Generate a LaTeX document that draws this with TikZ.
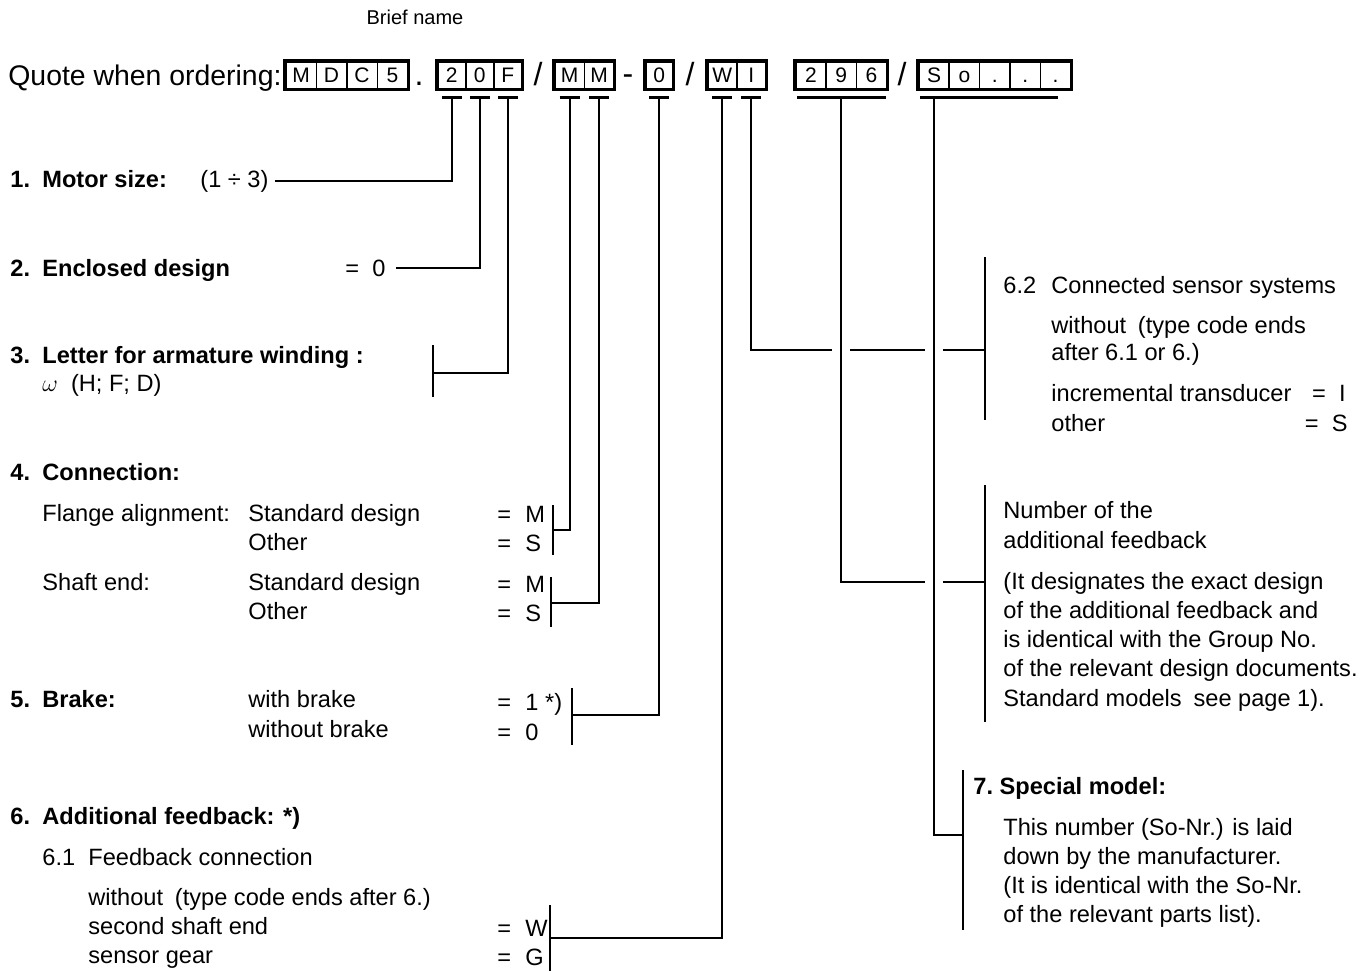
\documentclass[tikz,border=0pt]{standalone}
\usepackage{fontspec}
\setmainfont{Liberation Sans}
\usetikzlibrary{positioning}

\newcommand{\corpo}{\fontsize{11.8}{14}\selectfont}
\newcommand{\piccolo}{\fontsize{10.5}{12}\selectfont}
\newcommand{\voce}[2][16pt]{\makebox[#1][l]{#2}}
\newcommand{\uguale}[1]{\makebox[14pt][l]{=}#1}

\begin{document}
\begin{tikzpicture}[x=0.5pt, y=-0.5pt,
        txt/.style={anchor=base west, inner sep=0pt, font=\corpo},
        bld/.style={anchor=base west, inner sep=0pt, font=\corpo\bfseries},
        cella/.style={draw, line width=0.8pt, anchor=north west, inner sep=0pt,
            text height=7.6pt, text depth=0pt, minimum height=13.5pt, font=\piccolo},
        segno/.style={anchor=base, inner sep=0pt, font=\fontsize{16}{18}\selectfont},
        cornice/.style={line width=1.8pt},
        filo/.style={line width=1pt},
        taglio/.style={preaction={draw=white, line width=9pt}}]
    \useasboundingbox (0,0) rectangle (1369,971);

    % Intestazione
    \node[anchor=base, inner sep=0pt, font=\fontsize{10}{12}\selectfont] (brief) at (415,24) {Brief name};
    \node[anchor=base west, inner sep=0pt, font=\fontsize{14.2}{16}\selectfont] (quote) at (8,85) {Quote when ordering:};

    % Caselle del codice
    \foreach \c [count=\i] in {M,D,C,5}
        \node[cella, minimum width=15.25pt] (a\i) at ({285+(\i-1)*30.5},61) {\c};
    \foreach \c [count=\i] in {2,0,F}
        \node[cella, minimum width=14pt] (b\i) at ({437+(\i-1)*28},61) {\c};
    \foreach \c [count=\i] in {M,M}
        \node[cella, minimum width=14.75pt] (m\i) at ({554+(\i-1)*29.5},61) {\c};
    \node[cella, minimum width=13.5pt] (z1) at (645,61) {0};
    \foreach \c [count=\i] in {W,I}
        \node[cella, minimum width=14.5pt] (w\i) at ({707+(\i-1)*29},61) {\c};
    \foreach \c [count=\i] in {2,9,6}
        \node[cella, minimum width=15.15pt] (c\i) at ({795+(\i-1)*30.3},61) {\c};
    \foreach \c [count=\i] in {S,o,.,.,.}
        \node[cella, minimum width=15.2pt] (s\i) at ({918+(\i-1)*30.4},61) {\c};

    \draw[cornice] (a1.north west) rectangle (a4.south east);
    \draw[cornice] (b1.north west) rectangle (b3.south east);
    \draw[cornice] (m1.north west) rectangle (m2.south east);
    \draw[cornice] (z1.north west) rectangle (z1.south east);
    \draw[cornice] (w1.north west) rectangle (w2.south east);
    \draw[cornice] (c1.north west) rectangle (c3.south east);
    \draw[cornice] (s1.north west) rectangle (s5.south east);

    % Separatori
    \node[segno] (p1) at (419,85) {.};
    \node[segno] (p2) at (538,85) {/};
    \node[segno] (p3) at (628,84) {-};
    \node[segno] (p4) at (690,85) {/};
    \node[segno] (p5) at (902,85) {/};

    % Punti di attacco sotto le caselle
    \foreach \n/\k in {b1/t1, b2/t2, b3/t3, m1/t4, m2/t5, z1/t6, w1/t7, w2/t8, c2/t9, s1/t10}
        \coordinate (\k) at ([yshift=-4pt]\n.south);

    % Voci a sinistra
    \node[bld] (n1) at (10,187) {\voce{1.}Motor size:};
    \node[txt] (v1) at (200,187) {(1 ÷ 3)};
    \node[bld] (n2) at (10,276) {\voce{2.}Enclosed design};
    \node[txt] (v2) at (345,276) {=\ \ 0};
    \node[bld] (n3) at (10,363) {\voce{3.}Letter for armature winding :};
    \node[txt] (n3b) at (42,391) {$\omega$\ \ (H; F; D)};
    \node[bld] (n4) at (10,480) {\voce{4.}Connection:};
    \node[txt] (n4a) at (42,521) {Flange alignment:};
    \node[txt] (n4b) at (42,590) {Shaft end:};
    \node[bld] (n5) at (10,707) {\voce{5.}Brake:};
    \node[bld] (n6) at (10,824) {\voce{6.}Additional feedback: *)};
    \node[txt] (n61) at (42,865) {\voce[23pt]{6.1}Feedback connection};
    \foreach \t/\y [count=\i] in {{without\enspace(type code ends after 6.)}/905,
            {second shaft end}/934, {sensor gear}/963}
        \node[txt] (f\i) at (88,\y) {\t};
    \foreach \t/\y [count=\i] in {Standard design/521, Other/550, Standard design/590,
            Other/619, with brake/707, without brake/737}
        \node[txt] (d\i) at (248,\y) {\t};
    \foreach \t/\y [count=\i] in {M/522, S/551, M/592, S/621, {1 *)}/710, 0/740, W/936, G/965}
        \node[txt] (u\i) at (497,\y) {\uguale{\t}};

    % Voci a destra
    \node[txt] (r62) at (1003,293) {\voce[24pt]{6.2}Connected sensor systems};
    \foreach \t/\y [count=\i] in {{without\enspace(type code ends}/333, {after 6.1 or 6.)}/360,
            {incremental transducer}/401, {other}/431}
        \node[txt] (g\i) at (1051,\y) {\t};
    \node[anchor=base east, inner sep=0pt, font=\corpo] (gi) at (1346,401) {=\ \ I};
    \node[anchor=base east, inner sep=0pt, font=\corpo] (gs) at (1348,431) {=\ \ S};
    \foreach \t/\y [count=\i] in {{Number of the}/518, {additional feedback}/548,
            {(It designates the exact design}/589, {of the additional feedback and}/618,
            {is identical with the Group No.}/647, {of the relevant design documents.}/676,
            {Standard models\enspace see page 1).}/706}
        \node[txt] (h\i) at (1003,\y) {\t};
    \node[bld] (n7) at (973,794) {7.\ Special model:};
    \foreach \t/\y [count=\i] in {{This number (So-Nr.) is laid}/835, {down by the manufacturer.}/864,
            {(It is identical with the So-Nr.}/893, {of the relevant parts list).}/922}
        \node[txt] (q\i) at (1003,\y) {\t};

    % Parentesi verticali e punti di arrivo
    \coordinate (k3) at (433,373);
    \coordinate (k4) at (553,530);
    \coordinate (k5) at (551,603);
    \coordinate (k6) at (572,715);
    \coordinate (k7) at (550,938);
    \coordinate (k8) at (985,350);
    \coordinate (k9) at (985,582);
    \coordinate (k10) at (963,835);

    % Collegamenti
    \draw[filo] (t1) |- ([xshift=3pt]v1.east);
    \draw[filo] (t2) |- ([xshift=5pt]v2.east);
    \draw[filo] (t3) |- (k3);
    \draw[filo] (t4) |- (k4);
    \draw[filo] (t5) |- (k5);
    \draw[filo] (t6) |- (k6);
    \draw[filo] (t7) |- (k7);
    \draw[filo] (t8) |- (k8);
    \draw[filo, taglio] (t9) |- (k9);
    \draw[filo, taglio] (t10) |- (k10);

    \draw[filo] (433,345) -- (433,397);
    \draw[filo] (553,505) -- (553,555);
    \draw[filo] (551,577) -- (551,627);
    \draw[filo] (572,688) -- (572,745);
    \draw[filo] (550,905) -- (550,971);
    \draw[filo] (985,257) -- (985,420);
    \draw[filo] (985,485) -- (985,722);
    \draw[filo] (963,770) -- (963,930);

    % Trattini sotto le caselle
    \foreach \k in {t1,t2,t3,t4,t5,t6,t7,t8}
        \draw[line width=1.2pt] ([xshift=-5pt]\k) -- ([xshift=5pt]\k);
    \draw[line width=1.2pt] ([xshift=1pt,yshift=-4pt]c1.south west) -- ([xshift=-1pt,yshift=-4pt]c3.south east);
    \draw[line width=1.2pt] ([xshift=1pt,yshift=-4pt]s1.south west) -- ([xshift=-7pt,yshift=-4pt]s5.south east);
\end{tikzpicture}
\end{document}
